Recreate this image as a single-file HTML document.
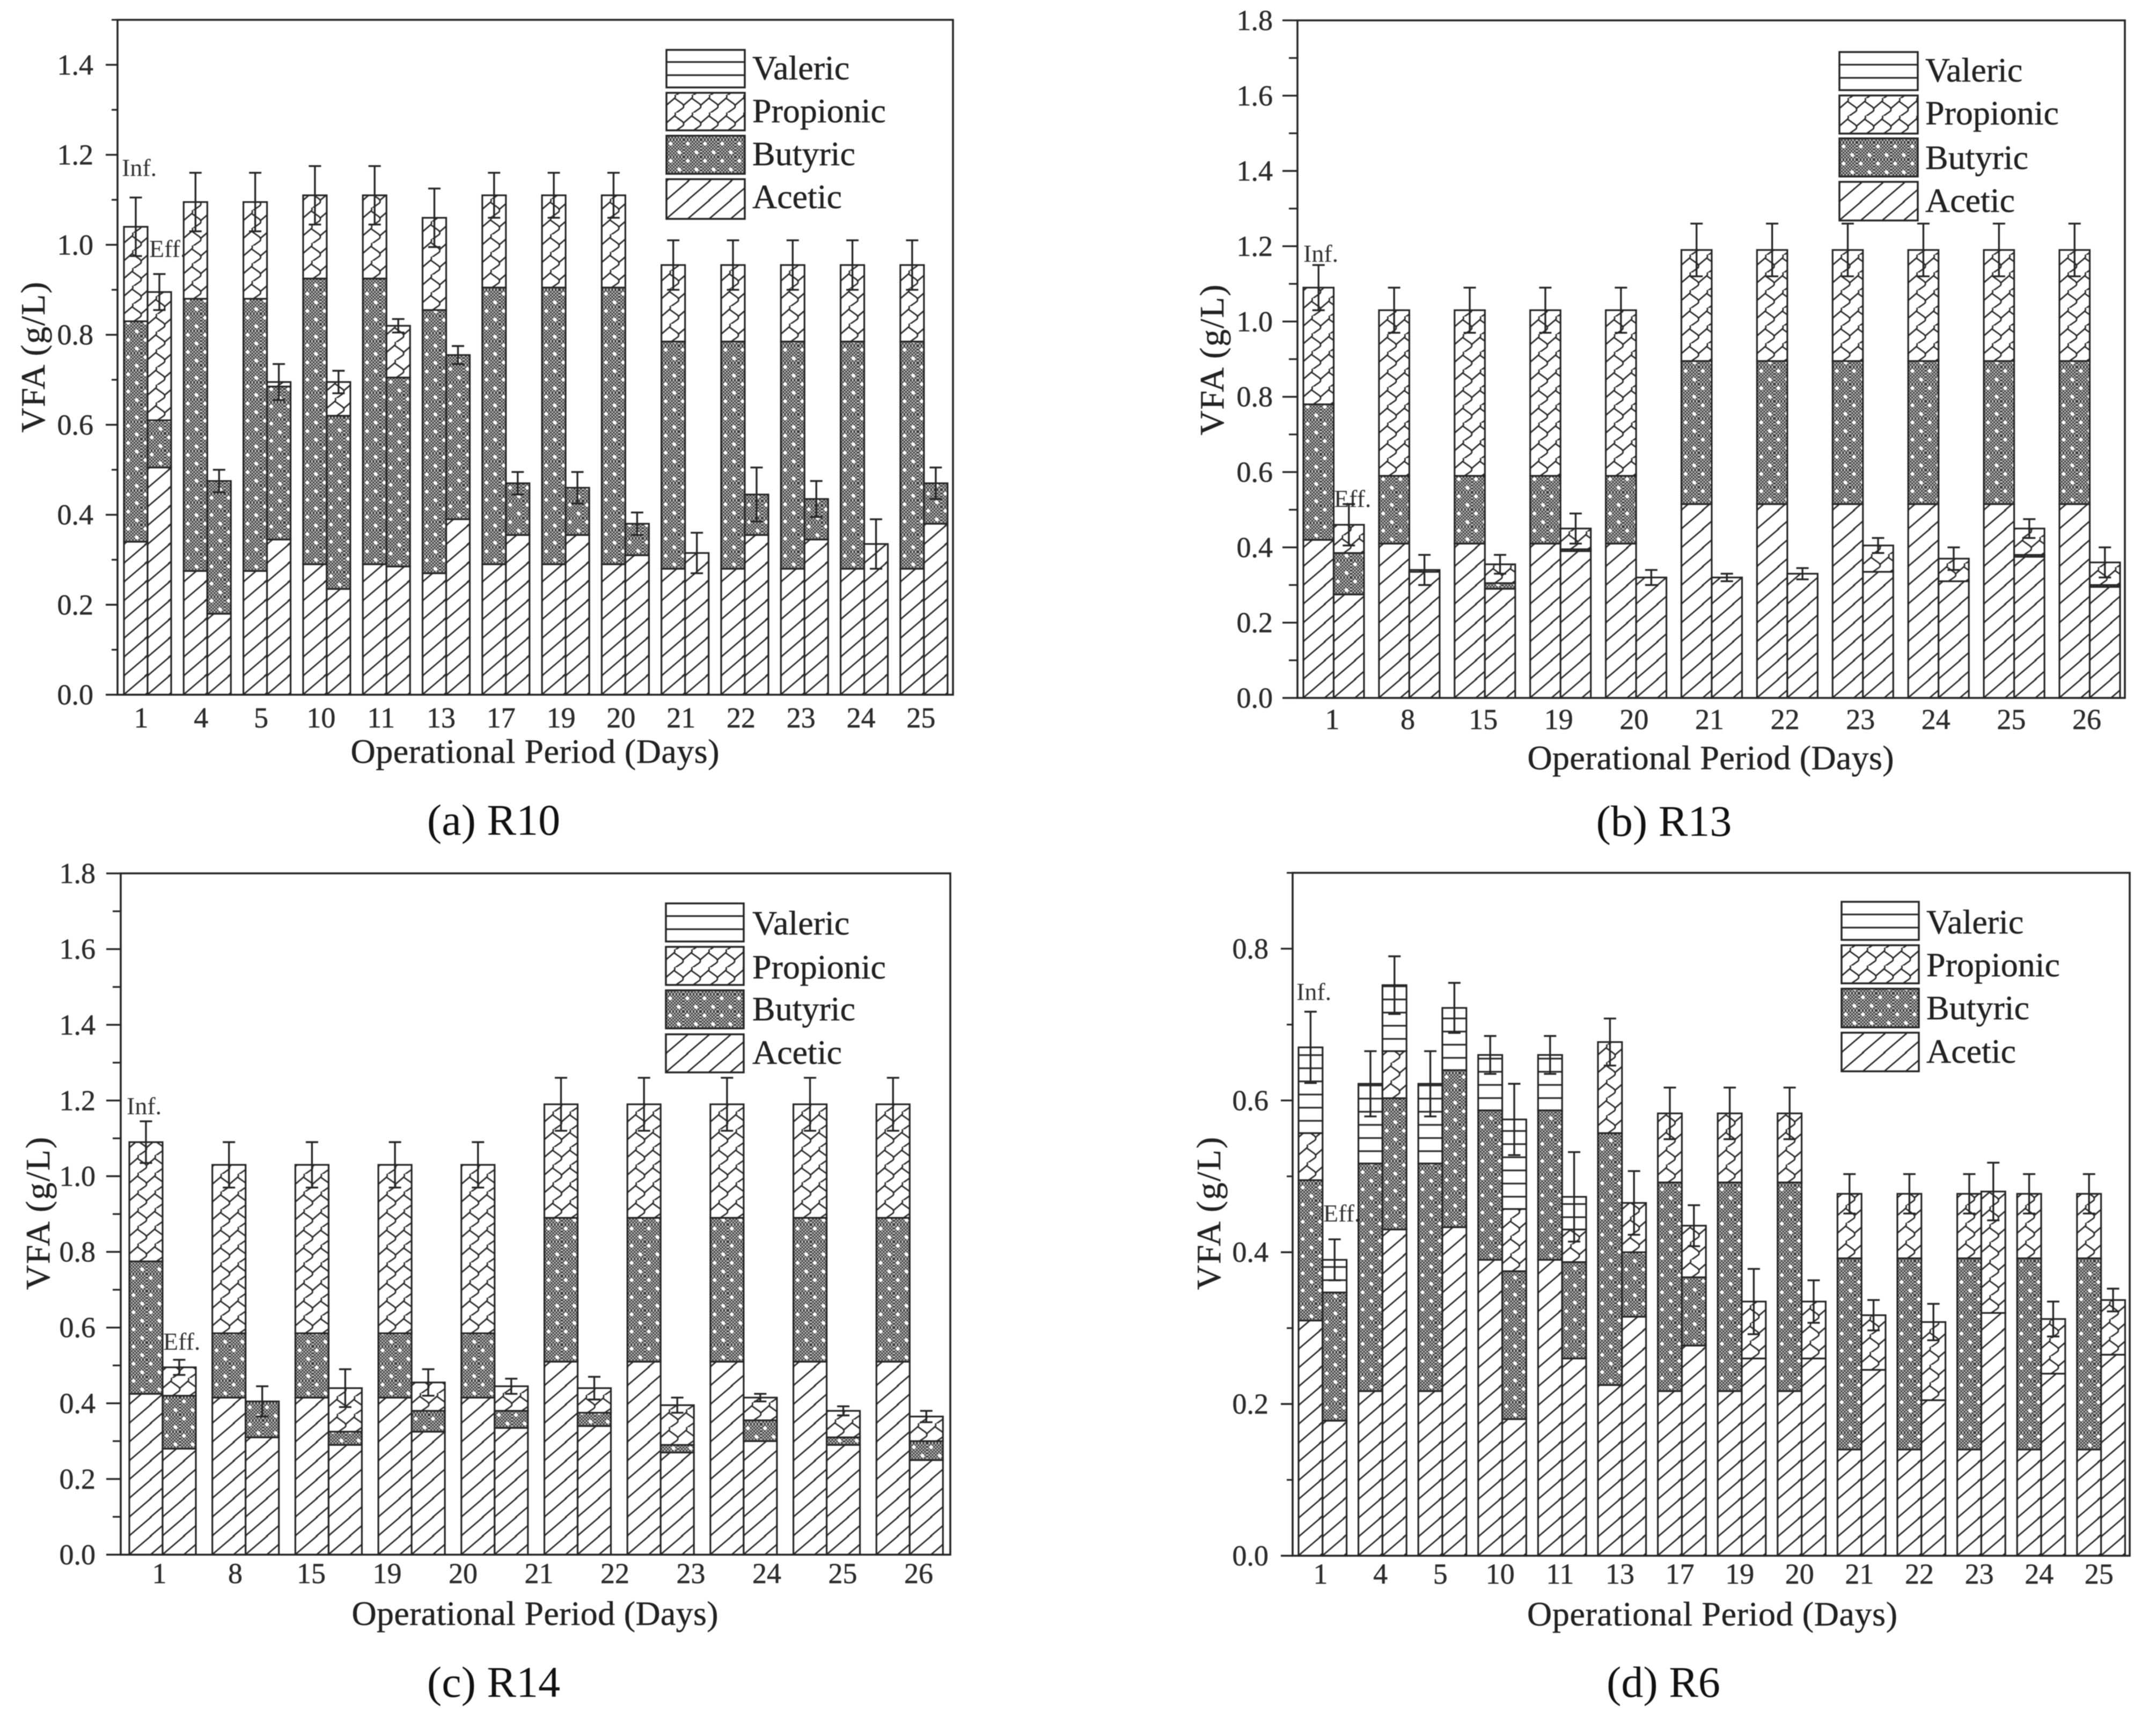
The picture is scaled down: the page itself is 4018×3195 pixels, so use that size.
<!DOCTYPE html>
<html lang="en">
<head>
<meta charset="utf-8">
<title>VFA stacked bar charts for R10, R13, R14 and R6</title>
<style>
html,body{margin:0;padding:0;background:#fff;}
svg{display:block;filter:blur(0.7px);}
text{font-family:"Liberation Serif","Times New Roman",serif;fill:#222;stroke:#222;stroke-width:.5px;}
.leg{font-size:64px;}
.axt{font-size:64px;}
.cap{font-size:82px;fill:#111;stroke:none;}
.note{font-size:46px;fill:#333;stroke:none;}
.tick{font-size:54px;fill:#2c2c2c;}
.sw{stroke:#262626;stroke-width:3.5;}
</style>
</head>
<body>
<svg id="fig" xmlns="http://www.w3.org/2000/svg" width="4018" height="3195" viewBox="0 0 4018 3195">
<defs>
  <pattern id="pat-acetic" patternUnits="userSpaceOnUse" width="40" height="35">
    <rect width="40" height="35" fill="#fff"/>
    <path d="M-4 38 L44 -3 M-44 38 L4 -3 M36 38 L84 -3" stroke="#2c2c2c" stroke-width="2.8" fill="none"/>
  </pattern>
  <pattern id="pat-check" patternUnits="userSpaceOnUse" width="6" height="6">
    <rect width="6" height="6" fill="#c0c0c0"/>
    <rect width="3" height="3" fill="#363636"/>
    <rect x="3" y="3" width="3" height="3" fill="#363636"/>
  </pattern>
  <pattern id="pat-butyric" patternUnits="userSpaceOnUse" width="32" height="32">
    <rect width="32" height="32" fill="url(#pat-check)"/>
    <circle cx="8" cy="8" r="3.6" fill="#fff"/>
    <circle cx="24" cy="24" r="3.6" fill="#fff"/>
  </pattern>
  <g id="wave-cell">
    <path d="M16 -1 C17 3 17 5 14 7 L0 19 M15 6 L29 16 C33 19 33 23 30 25 L17 34" stroke="#2c2c2c" stroke-width="2.8" fill="none"/>
  </g>
  <pattern id="pat-propionic" patternUnits="userSpaceOnUse" width="32" height="33">
    <rect width="32" height="33" fill="#fff"/>
    <use href="#wave-cell"/>
    <use href="#wave-cell" x="-32"/>
    <use href="#wave-cell" x="32"/>
  </pattern>
  <pattern id="pat-valeric" patternUnits="userSpaceOnUse" width="40" height="24.5">
    <rect width="40" height="24.5" fill="#fff"/>
    <rect y="0" width="40" height="3.2" fill="#2c2c2c"/>
  </pattern>
</defs>
<rect width="4018" height="3195" fill="#fff"/>

<g id="panel-r10">
  <text class="axt" transform="translate(83,666) rotate(-90)" text-anchor="middle" textLength="281">VFA (g/L)</text>
  <text class="axt" x="997" y="1422" text-anchor="middle" textLength="687">Operational Period (Days)</text>
  <text class="cap" x="920" y="1556" text-anchor="middle">(a) R10</text>
  <text class="note" x="227" y="328">Inf.</text>
  <text class="note" x="278" y="479">Eff.</text>
  <g class="late">
    <g transform="translate(1242,163)"><rect class="sw" y="-70" width="146" height="70" fill="url(#pat-valeric)"/></g>
    <g transform="translate(1242,243)"><rect class="sw" y="-70" width="146" height="70" fill="url(#pat-propionic)"/></g>
    <g transform="translate(1242,324)"><rect class="sw" y="-71" width="146" height="71" fill="url(#pat-butyric)"/></g>
    <g transform="translate(1242,408)"><rect class="sw" y="-74" width="146" height="74" fill="url(#pat-acetic)"/></g>
    <text class="leg" x="1402" y="148">Valeric</text>
    <text class="leg" x="1402" y="228">Propionic</text>
    <text class="leg" x="1402" y="308">Butyric</text>
    <text class="leg" x="1402" y="388">Acetic</text>
  </g>
</g>

<g id="panel-r13">
  <text class="axt" transform="translate(2280,671) rotate(-90)" text-anchor="middle" textLength="281">VFA (g/L)</text>
  <text class="axt" x="3188" y="1434" text-anchor="middle" textLength="683">Operational Period (Days)</text>
  <text class="cap" x="3101" y="1558" text-anchor="middle">(b) R13</text>
  <text class="note" x="2429" y="488">Inf.</text>
  <text class="note" x="2486" y="945">Eff.</text>
  <g class="late">
    <g transform="translate(3428,168)"><rect class="sw" y="-71" width="146" height="71" fill="url(#pat-valeric)"/></g>
    <g transform="translate(3428,249)"><rect class="sw" y="-71" width="146" height="71" fill="url(#pat-propionic)"/></g>
    <g transform="translate(3428,329)"><rect class="sw" y="-71" width="146" height="71" fill="url(#pat-butyric)"/></g>
    <g transform="translate(3428,411)"><rect class="sw" y="-72" width="146" height="72" fill="url(#pat-acetic)"/></g>
    <text class="leg" x="3588" y="152">Valeric</text>
    <text class="leg" x="3588" y="232">Propionic</text>
    <text class="leg" x="3588" y="315">Butyric</text>
    <text class="leg" x="3588" y="395">Acetic</text>
  </g>
</g>

<g id="panel-r14">
  <text class="axt" transform="translate(92,2262) rotate(-90)" text-anchor="middle" textLength="285">VFA (g/L)</text>
  <text class="axt" x="997" y="3029" text-anchor="middle" textLength="683">Operational Period (Days)</text>
  <text class="cap" x="920" y="3163" text-anchor="middle">(c) R14</text>
  <text class="note" x="236" y="2077">Inf.</text>
  <text class="note" x="304" y="2516">Eff.</text>
  <g class="late">
    <g transform="translate(1241,1755)"><rect class="sw" y="-71" width="145" height="71" fill="url(#pat-valeric)"/></g>
    <g transform="translate(1241,1836)"><rect class="sw" y="-71" width="145" height="71" fill="url(#pat-propionic)"/></g>
    <g transform="translate(1241,1917)"><rect class="sw" y="-71" width="145" height="71" fill="url(#pat-butyric)"/></g>
    <g transform="translate(1241,1999)"><rect class="sw" y="-71" width="145" height="71" fill="url(#pat-acetic)"/></g>
    <text class="leg" x="1402" y="1742">Valeric</text>
    <text class="leg" x="1402" y="1824">Propionic</text>
    <text class="leg" x="1402" y="1902">Butyric</text>
    <text class="leg" x="1402" y="1983">Acetic</text>
  </g>
</g>

<g id="panel-r6">
  <text class="axt" transform="translate(2274,2262) rotate(-90)" text-anchor="middle" textLength="285">VFA (g/L)</text>
  <text class="axt" x="3191" y="3030" text-anchor="middle" textLength="690">Operational Period (Days)</text>
  <text class="cap" x="3100" y="3163" text-anchor="middle">(d) R6</text>
  <text class="note" x="2416" y="1864">Inf.</text>
  <text class="note" x="2466" y="2277">Eff.</text>
  <g class="late">
    <g transform="translate(3432,1752)"><rect class="sw" y="-71" width="144" height="71" fill="url(#pat-valeric)"/></g>
    <g transform="translate(3432,1833)"><rect class="sw" y="-71" width="144" height="71" fill="url(#pat-propionic)"/></g>
    <g transform="translate(3432,1915)"><rect class="sw" y="-72" width="144" height="72" fill="url(#pat-butyric)"/></g>
    <g transform="translate(3432,1997)"><rect class="sw" y="-72" width="144" height="72" fill="url(#pat-acetic)"/></g>
    <text class="leg" x="3590" y="1740">Valeric</text>
    <text class="leg" x="3590" y="1820">Propionic</text>
    <text class="leg" x="3590" y="1900">Butyric</text>
    <text class="leg" x="3590" y="1981">Acetic</text>
  </g>
</g>
</svg>

<script>
// ---- R10 ----
const r10Days = ['1','4','5','10','11','13','17','19','20','21','22','23','24','25'];
const r10YTicks = ['0.0','0.2','0.4','0.6','0.8','1.0','1.2','1.4'];
const r10InfAcetic = [.34,.275,.275,.29,.29,.27,.29,.29,.29,.28,.28,.28,.28,.28];
const r10InfButyric = [.49,.605,.605,.635,.635,.585,.615,.615,.615,.505,.505,.505,.505,.505];
const r10InfPropionic = [.21,.215,.215,.185,.185,.205,.205,.205,.205,.17,.17,.17,.17,.17];
const r10InfValeric = [0,0,0,0,0,0,0,0,0,0,0,0,0,0];
const r10InfErr = [.065,.065,.065,.065,.065,.065,.05,.05,.05,.055,.055,.055,.055,.055];
const r10EffAcetic = [.505,.18,.345,.235,.285,.39,.355,.355,.31,.315,.355,.345,.335,.38];
const r10EffButyric = [.105,.295,.34,.385,.42,.365,.115,.105,.07,0,.09,.09,0,.09];
const r10EffPropionic = [.285,0,.01,.075,.115,0,0,0,0,0,0,0,0,0];
const r10EffValeric = [0,0,0,0,0,0,0,0,0,0,0,0,0,0];
const r10EffErr = [.04,.025,.04,.025,.015,.02,.025,.035,.025,.045,.06,.04,.055,.035];

// ---- R13 ----
const r13Days = ['1','8','15','19','20','21','22','23','24','25','26'];
const r13YTicks = ['0.0','0.2','0.4','0.6','0.8','1.0','1.2','1.4','1.6','1.8'];
const r13InfAcetic = [.42,.41,.41,.41,.41,.515,.515,.515,.515,.515,.515];
const r13InfButyric = [.36,.18,.18,.18,.18,.38,.38,.38,.38,.38,.38];
const r13InfPropionic = [.31,.44,.44,.44,.44,.295,.295,.295,.295,.295,.295];
const r13InfValeric = [0,0,0,0,0,0,0,0,0,0,0];
const r13InfErr = [.06,.06,.06,.06,.06,.07,.07,.07,.07,.07,.07];
const r13EffAcetic = [.275,.335,.29,.39,.32,.32,.33,.335,.31,.375,.295];
const r13EffButyric = [.11,0,.015,.005,0,0,0,0,0,.005,.005];
const r13EffPropionic = [.075,.005,.05,.055,0,0,0,.07,.06,.07,.06];
const r13EffValeric = [0,0,0,0,0,0,0,0,0,0,0];
const r13EffErr = [.055,.04,.025,.04,.02,.01,.015,.02,.03,.025,.04];

// ---- R14 ----
const r14Days = ['1','8','15','19','20','21','22','23','24','25','26'];
const r14YTicks = ['0.0','0.2','0.4','0.6','0.8','1.0','1.2','1.4','1.6','1.8'];
const r14InfAcetic = [.425,.415,.415,.415,.415,.51,.51,.51,.51,.51];
const r14InfButyric = [.35,.17,.17,.17,.17,.38,.38,.38,.38,.38];
const r14InfPropionic = [.315,.445,.445,.445,.445,.30,.30,.30,.30,.30];
const r14InfValeric = [0,0,0,0,0,0,0,0,0,0];
const r14InfErr = [.055,.06,.06,.06,.06,.07,.07,.07,.07,.07];
const r14EffAcetic = [.28,.31,.29,.325,.335,.34,.27,.30,.29,.25];
const r14EffButyric = [.14,.095,.035,.055,.045,.035,.02,.055,.02,.05];
const r14EffPropionic = [.075,0,.115,.075,.065,.065,.105,.06,.07,.065];
const r14EffValeric = [0,0,0,0,0,0,0,0,0,0];
const r14EffErr = [.02,.04,.05,.035,.02,.03,.02,.01,.012,.015];

// ---- R6 ----
const r6Days = ['1','4','5','10','11','13','17','19','20','21','22','23','24','25'];
const r6YTicks = ['0.0','0.2','0.4','0.6','0.8'];
const r6InfAcetic = [.31,.217,.217,.39,.39,.225,.217,.217,.217,.14,.14,.14,.14,.14];
const r6InfButyric = [.185,.30,.30,.197,.197,.332,.275,.275,.275,.252,.252,.252,.252,.252];
const r6InfPropionic = [.062,0,0,0,0,.12,.091,.091,.091,.085,.085,.085,.085,.085];
const r6InfValeric = [.113,.105,.105,.073,.073,0,0,0,0,0,0,0,0,0];
const r6InfErr = [.047,.043,.043,.025,.025,.031,.034,.034,.034,.026,.026,.026,.026,.026];
const r6EffAcetic = [.178,.43,.433,.18,.26,.315,.277,.26,.26,.245,.205,.32,.24,.265];
const r6EffButyric = [.169,.173,.207,.195,.127,.085,.09,0,0,0,0,0,0,0];
const r6EffPropionic = [0,.062,0,.082,.043,.065,.068,.075,.075,.072,.103,.16,.072,.072];
const r6EffValeric = [.043,.087,.082,.118,.043,0,0,0,0,0,0,0,0,0];
const r6EffErr = [.027,.038,.033,.047,.059,.042,.027,.043,.028,.02,.024,.038,.023,.015];

const NS = 'http://www.w3.org/2000/svg';
const INK = '#262626';
const SERIES = ['acetic','butyric','propionic','valeric'];

function mk(tag, attrs, parent) {
  const el = document.createElementNS(NS, tag);
  for (const k in attrs) el.setAttribute(k, attrs[k]);
  parent.appendChild(el);
  return el;
}

function drawStack(layer, panelId, sideName, dayName, left, width, comps, err, yScale) {
  const bar = mk('g', {}, layer);
  
  
  let base = 0;
  comps.forEach(function (v, s) {
    if (v <= 0) return;
    const yBottom = yScale(base);
    const yTop = yScale(base + v);
    const holder = mk('g', { transform: 'translate(' + left + ',' + yBottom + ')' }, bar);
    const seg = mk('rect', {
      x: 0, y: yTop - yBottom, width: width, height: yBottom - yTop,
      fill: 'url(#pat-' + SERIES[s] + ')', stroke: INK, 'stroke-width': 3.2
    }, holder);
    
    
    base += v;
  });
  const cx = left + width / 2;
  const yHi = yScale(base + err);
  const yLo = yScale(base - err);
  const eb = mk('path', {
    d: 'M' + cx + ' ' + yHi + 'V' + yLo +
       'M' + (cx - 11.5) + ' ' + yHi + 'H' + (cx + 11.5) +
       'M' + (cx - 11.5) + ' ' + yLo + 'H' + (cx + 11.5),
    stroke: INK, 'stroke-width': 3.4, fill: 'none'
  }, bar);
  
  
}

function drawPanel(p) {
  const root = document.getElementById('panel-' + p.id);
  const late = root.querySelector('.late');
  const layer = mk('g', {}, root);
  root.insertBefore(layer, late);
  const yScale = function (v) { return p.y0 - v * p.pxPerUnit; };

  const count = p.inf[0].length;
  for (let i = 0; i < count; i++) {
    const left = p.barLeft + i * p.pitch;
    const infComps = p.inf.map(function (a) { return a[i]; });
    const effComps = p.eff.map(function (a) { return a[i]; });
    const day = p.days[i];
    drawStack(layer, p.id, 'influent', day, left, p.barW, infComps, p.infErr[i], yScale);
    drawStack(layer, p.id, 'effluent', day, left + p.barW, p.barW, effComps, p.effErr[i], yScale);
  }

  const frame = mk('rect', {
    x: p.x0, y: p.yTop, width: p.x1 - p.x0, height: p.y0 - p.yTop,
    fill: 'none', stroke: INK, 'stroke-width': 3.6
  }, root);
  
  

  p.yTicks.forEach(function (label) {
    const v = parseFloat(label);
    const y = yScale(v);
    const t = mk('line', { x1: p.x0 - p.major, x2: p.x0, y1: y, y2: y, stroke: INK, 'stroke-width': 3.4 }, root);
    
    
    const txt = mk('text', { x: p.labelRight, y: y + 18, 'text-anchor': 'end', class: 'tick' }, root);
    txt.textContent = label;
    
    
  });
  const step = parseFloat(p.yTicks[1]) - parseFloat(p.yTicks[0]);
  const topV = (p.y0 - p.yTop) / p.pxPerUnit;
  for (let k = 0; (k + 0.5) * step < topV + 0.001; k++) {
    const y = yScale((k + 0.5) * step);
    const m = mk('line', { x1: p.x0 - p.minor, x2: p.x0, y1: y, y2: y, stroke: INK, 'stroke-width': 3.2 }, root);
    
    
  }

  p.days.forEach(function (label, i) {
    const txt = mk('text', { x: p.xLabel0 + i * p.xLabelStep, y: p.xLabelY, 'text-anchor': 'middle', class: 'tick' }, root);
    txt.textContent = label;
    
    
  });
  root.appendChild(late);
}

drawPanel({ id: 'r10', x0: 219, x1: 1776, y0: 1295, yTop: 37, pxPerUnit: 838.7,
  barLeft: 231, pitch: 111.3, barW: 44, major: 22, minor: 11, labelRight: 174,
  xLabel0: 263, xLabelStep: 111.8, xLabelY: 1356,
  days: r10Days, yTicks: r10YTicks,
  inf: [r10InfAcetic, r10InfButyric, r10InfPropionic, r10InfValeric], infErr: r10InfErr,
  eff: [r10EffAcetic, r10EffButyric, r10EffPropionic, r10EffValeric], effErr: r10EffErr });

drawPanel({ id: 'r13', x0: 2418, x1: 3960, y0: 1301, yTop: 38, pxPerUnit: 701.7,
  barLeft: 2429, pitch: 140.9, barW: 56.5, major: 28, minor: 16, labelRight: 2372,
  xLabel0: 2483, xLabelStep: 140.6, xLabelY: 1359,
  days: r13Days, yTicks: r13YTicks,
  inf: [r13InfAcetic, r13InfButyric, r13InfPropionic, r13InfValeric], infErr: r13InfErr,
  eff: [r13EffAcetic, r13EffButyric, r13EffPropionic, r13EffValeric], effErr: r13EffErr });

drawPanel({ id: 'r14', x0: 225, x1: 1771, y0: 2898, yTop: 1628, pxPerUnit: 705.5,
  barLeft: 241, pitch: 154.7, barW: 62, major: 27, minor: 15, labelRight: 178,
  xLabel0: 297, xLabelStep: 141.5, xLabelY: 2951,
  days: r14Days, yTicks: r14YTicks,
  inf: [r14InfAcetic, r14InfButyric, r14InfPropionic, r14InfValeric], infErr: r14InfErr,
  eff: [r14EffAcetic, r14EffButyric, r14EffPropionic, r14EffValeric], effErr: r14EffErr });

drawPanel({ id: 'r6', x0: 2409, x1: 3969, y0: 2900, yTop: 1627, pxPerUnit: 1414.4,
  barLeft: 2420, pitch: 111.6, barW: 44.8, major: 22, minor: 11, labelRight: 2364,
  xLabel0: 2461, xLabelStep: 111.6, xLabelY: 2952,
  days: r6Days, yTicks: r6YTicks,
  inf: [r6InfAcetic, r6InfButyric, r6InfPropionic, r6InfValeric], infErr: r6InfErr,
  eff: [r6EffAcetic, r6EffButyric, r6EffPropionic, r6EffValeric], effErr: r6EffErr });
</script>
</body>
</html>
